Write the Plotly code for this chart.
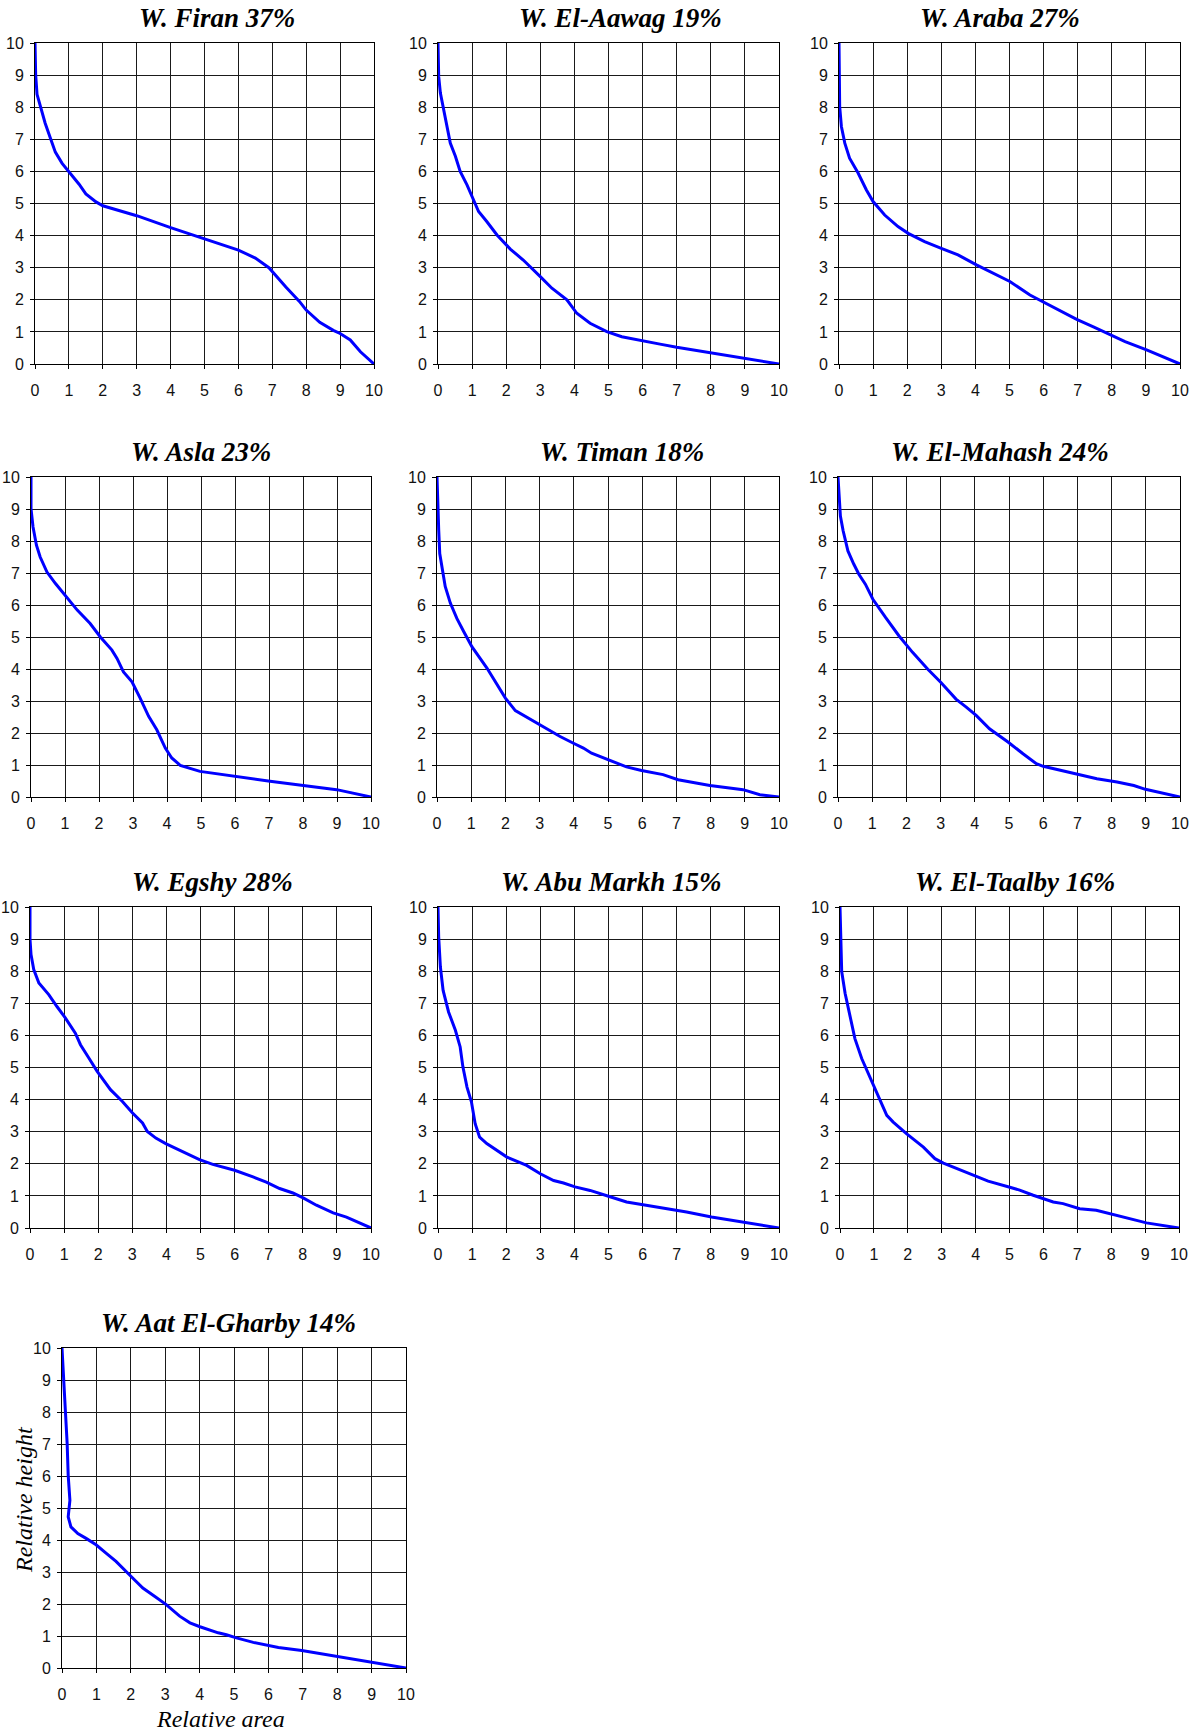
import plotly.graph_objects as go

# ---------------- data (relative area x, relative height y) ----------------
titles = ["W. Firan 37%", "W. El-Aawag 19%", "W. Araba 27%",
          "W. Asla 23%", "W. Timan 18%", "W. El-Mahash 24%",
          "W. Egshy 28%", "W. Abu Markh 15%", "W. El-Taalby 16%",
          "W. Aat El-Gharby 14%"]

firan_x = [0, 0.02, 0.06, 0.2, 0.3, 0.45, 0.6, 0.8, 1.0, 1.3, 1.5, 1.8, 2.0, 3.0, 4.0, 5.0, 6.0, 6.5, 6.9, 7.4, 7.8, 8.0, 8.4, 8.8, 9.0, 9.3, 9.6, 10]
firan_y = [10, 9.0, 8.4, 7.9, 7.5, 7.05, 6.6, 6.25, 6.0, 5.6, 5.3, 5.05, 4.93, 4.62, 4.25, 3.9, 3.55, 3.3, 3.0, 2.4, 1.95, 1.68, 1.3, 1.05, 0.95, 0.75, 0.38, 0]

aawag_x = [0, 0.02, 0.07, 0.17, 0.31, 0.36, 0.51, 0.65, 0.85, 1.04, 1.19, 1.43, 1.73, 2.12, 2.5, 3.0, 3.34, 3.78, 4.07, 4.46, 4.95, 5.39, 5.92, 6.51, 7.0, 8.02, 9.0, 10]
aawag_y = [10, 8.96, 8.44, 7.92, 7.09, 6.88, 6.47, 6.0, 5.58, 5.11, 4.75, 4.44, 4.02, 3.58, 3.24, 2.72, 2.36, 2.0, 1.58, 1.27, 1.01, 0.85, 0.73, 0.62, 0.52, 0.35, 0.18, 0]

araba_x = [0, 0.0, 0.02, 0.07, 0.17, 0.31, 0.56, 0.8, 1.0, 1.34, 1.73, 2.03, 2.51, 3.0, 3.49, 4.03, 4.52, 5.01, 5.6, 5.99, 6.48, 6.97, 7.46, 7.99, 8.39, 9.02, 10]
araba_y = [10, 8.96, 8.02, 7.4, 6.88, 6.41, 5.95, 5.43, 5.06, 4.64, 4.28, 4.07, 3.81, 3.6, 3.4, 3.09, 2.83, 2.57, 2.15, 1.94, 1.66, 1.39, 1.16, 0.9, 0.7, 0.44, 0]

asla_x = [0, 0.0, 0.06, 0.16, 0.27, 0.47, 0.72, 1.01, 1.36, 1.74, 2.04, 2.38, 2.53, 2.72, 2.97, 3.21, 3.46, 3.7, 3.95, 4.14, 4.39, 4.97, 6.0, 7.03, 8.01, 8.99, 10]
asla_y = [10, 9.01, 8.44, 7.87, 7.5, 7.03, 6.67, 6.3, 5.84, 5.42, 5.0, 4.59, 4.33, 3.91, 3.6, 3.09, 2.52, 2.1, 1.53, 1.22, 0.99, 0.8, 0.64, 0.49, 0.36, 0.23, 0]

timan_x = [0, 0.02, 0.05, 0.08, 0.15, 0.24, 0.39, 0.58, 0.78, 1.02, 1.46, 1.75, 2.0, 2.29, 2.63, 3.02, 3.26, 3.6, 3.99, 4.28, 4.52, 5.01, 5.25, 5.54, 5.98, 6.61, 7.05, 7.98, 8.95, 9.44, 10]
timan_y = [10, 8.96, 8.34, 7.61, 7.1, 6.58, 6.06, 5.58, 5.17, 4.7, 4.03, 3.51, 3.09, 2.7, 2.49, 2.25, 2.12, 1.89, 1.68, 1.53, 1.37, 1.16, 1.06, 0.94, 0.83, 0.7, 0.54, 0.36, 0.23, 0.07, 0]

mahash_x = [0, 0.07, 0.15, 0.22, 0.29, 0.46, 0.61, 0.8, 1.02, 1.39, 1.78, 2.18, 2.62, 3.01, 3.45, 3.75, 4.04, 4.43, 4.97, 5.41, 5.8, 6.0, 6.98, 7.57, 8.16, 8.65, 8.99, 10]
mahash_y = [10, 8.78, 8.32, 8.0, 7.69, 7.28, 6.96, 6.65, 6.18, 5.61, 5.04, 4.52, 4.0, 3.58, 3.06, 2.81, 2.55, 2.13, 1.72, 1.35, 1.04, 0.96, 0.73, 0.57, 0.47, 0.36, 0.24, 0]

egshy_x = [0, 0.0, 0.03, 0.11, 0.26, 0.55, 0.79, 1.04, 1.33, 1.48, 1.73, 1.97, 2.36, 2.71, 3.0, 3.3, 3.44, 3.69, 3.98, 4.47, 4.97, 5.36, 6.0, 6.54, 6.93, 7.32, 7.71, 8.01, 8.4, 8.89, 9.28, 10]
egshy_y = [10, 8.99, 8.52, 8.05, 7.63, 7.27, 6.9, 6.54, 6.07, 5.71, 5.29, 4.88, 4.31, 3.94, 3.59, 3.27, 3.01, 2.8, 2.63, 2.39, 2.13, 1.98, 1.8, 1.59, 1.43, 1.23, 1.09, 0.94, 0.71, 0.47, 0.34, 0]

abumarkh_x = [0, 0.02, 0.07, 0.15, 0.31, 0.51, 0.65, 0.73, 0.85, 0.98, 1.09, 1.22, 1.43, 1.73, 2.02, 2.6, 3.0, 3.39, 3.68, 4.02, 4.46, 5.0, 5.53, 5.97, 7.0, 7.29, 8.02, 9.0, 10]
abumarkh_y = [10, 9.07, 8.13, 7.4, 6.73, 6.16, 5.64, 5.02, 4.39, 3.93, 3.25, 2.83, 2.63, 2.42, 2.21, 1.95, 1.69, 1.48, 1.4, 1.28, 1.17, 0.99, 0.81, 0.73, 0.55, 0.5, 0.34, 0.16, 0]

taalby_x = [0, 0.02, 0.05, 0.15, 0.29, 0.44, 0.64, 0.88, 1.13, 1.38, 1.57, 1.96, 2.46, 2.8, 3.05, 3.59, 4.03, 4.37, 5.01, 5.3, 5.7, 6.29, 6.58, 7.07, 7.56, 8.06, 9.04, 10]
taalby_y = [10, 8.98, 7.99, 7.31, 6.58, 5.9, 5.28, 4.71, 4.08, 3.51, 3.3, 2.94, 2.52, 2.16, 2.02, 1.79, 1.58, 1.46, 1.27, 1.18, 1.02, 0.81, 0.76, 0.6, 0.55, 0.42, 0.16, 0]

aat_x = [0, 0.04, 0.1, 0.15, 0.18, 0.23, 0.18, 0.26, 0.46, 0.7, 0.99, 1.28, 1.57, 2.01, 2.35, 2.69, 3.03, 3.42, 3.72, 4.01, 4.25, 4.54, 4.78, 5.07, 5.56, 6.29, 6.97, 7.99, 9.01, 10]
aat_y = [10, 8.99, 8.0, 7.01, 6.02, 5.24, 4.72, 4.41, 4.2, 4.05, 3.85, 3.59, 3.33, 2.86, 2.5, 2.24, 1.98, 1.62, 1.41, 1.29, 1.2, 1.1, 1.04, 0.94, 0.8, 0.64, 0.55, 0.36, 0.18, 0]

series_x = [firan_x, aawag_x, araba_x, asla_x, timan_x, mahash_x, egshy_x, abumarkh_x, taalby_x, aat_x]
series_y = [firan_y, aawag_y, araba_y, asla_y, timan_y, mahash_y, egshy_y, abumarkh_y, taalby_y, aat_y]

tick_vals = list(range(0, 11))
tick_text = [str(v) for v in tick_vals]

# ---------------- layout (pixel boxes of each plot area) ----------------
W, H = 1197, 1733
boxes = [  # (left, right, top, bottom) in px
    (35, 374, 43, 364), (438, 779, 43, 364), (839, 1180, 43, 364),
    (31, 371, 477, 797), (437, 779, 477, 797), (838, 1180, 477, 797),
    (30, 371, 907, 1228), (438, 779, 907, 1228), (840, 1179, 907, 1228),
    (62, 406, 1348, 1668),
]
title_cx = [217, 620, 1000, 201, 622, 1000, 212, 611, 1015, 228]

fig = go.Figure()
tick_font = dict(family="Liberation Sans Narrow, Arial Narrow, Liberation Sans, Arial", size=16, color="#111")
serif = "Liberation Serif, Times New Roman, serif"
annotations = []
for i, (l, r, t, b) in enumerate(boxes):
    n = "" if i == 0 else str(i + 1)
    fig.add_trace(go.Scatter(x=series_x[i], y=series_y[i], mode="lines",
                             line=dict(color="#0000FF", width=3),
                             xaxis="x" + n, yaxis="y" + n, showlegend=False,
                             hoverinfo="skip"))
    common = dict(range=[0, 10], tickvals=tick_vals, ticktext=tick_text,
                  showgrid=True, gridcolor="#1a1a1a", gridwidth=1,
                  showline=True, linecolor="#000", linewidth=1, mirror=True,
                  ticks="outside", ticklen=4, tickcolor="#000",
                  tickfont=tick_font, zeroline=False, fixedrange=True,
                  automargin=False)
    fig.layout["xaxis" + n] = dict(common, domain=[l / W, r / W], anchor="y" + n,
                                   ticklabelstandoff=8)
    fig.layout["yaxis" + n] = dict(common, domain=[1 - b / H, 1 - t / H], anchor="x" + n,
                                   ticklabelstandoff=3)
    annotations.append(dict(text="<b><i>" + titles[i] + "</i></b>", xref="paper", yref="paper",
                            x=title_cx[i] / W, y=1 - (t - 8) / H, xanchor="center", yanchor="bottom",
                            showarrow=False,
                            font=dict(family=serif, size=27, color="#000")))

annotations.append(dict(text="<i>Relative height</i>", xref="paper", yref="paper",
                        x=24 / W, y=1 - 1500 / H, xanchor="center", yanchor="middle", textangle=-90,
                        showarrow=False, font=dict(family=serif, size=24, color="#000")))
annotations.append(dict(text="<i>Relative area</i>", xref="paper", yref="paper",
                        x=220 / W, y=1 - 1719 / H, xanchor="center", yanchor="middle",
                        showarrow=False, font=dict(family=serif, size=24, color="#000")))

fig.update_layout(width=W, height=H,
                  margin=dict(l=0, r=0, t=0, b=0, pad=0, autoexpand=False),
                  paper_bgcolor="white", plot_bgcolor="white",
                  annotations=annotations, showlegend=False)

fig.write_html("out.html", config={"displayModeBar": False},
               post_script="document.body.style.margin='0';document.body.style.overflow='hidden';")
